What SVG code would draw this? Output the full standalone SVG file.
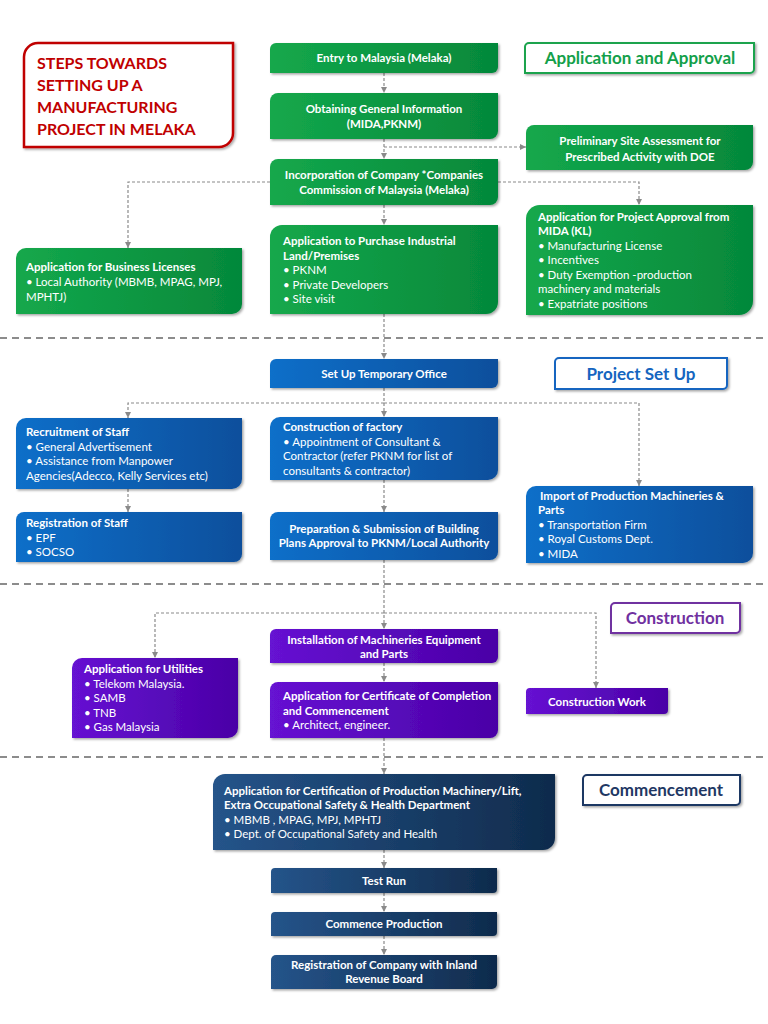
<svg xmlns="http://www.w3.org/2000/svg" width="768" height="1024" viewBox="0 0 768 1024">
<defs>
<linearGradient id="gG" x1="0" y1="0" x2="1" y2="0"><stop offset="0" stop-color="#14a84c"/><stop offset="1" stop-color="#05883a"/></linearGradient>
<linearGradient id="gB" x1="0" y1="0" x2="1" y2="0"><stop offset="0" stop-color="#0e6fc9"/><stop offset="1" stop-color="#0a4f9c"/></linearGradient>
<linearGradient id="gP" x1="0" y1="0" x2="1" y2="0"><stop offset="0" stop-color="#6612d2"/><stop offset="1" stop-color="#4a00a6"/></linearGradient>
<linearGradient id="gN" x1="0" y1="0" x2="1" y2="0"><stop offset="0" stop-color="#25548a"/><stop offset="1" stop-color="#0f2b4c"/></linearGradient>
<filter id="sh" x="-10%" y="-10%" width="120%" height="130%"><feDropShadow dx="1.5" dy="1.5" stdDeviation="1.2" flood-color="#000" flood-opacity="0.35"/></filter>
<marker id="ar" viewBox="0 0 6 6" refX="6" refY="3" markerWidth="6" markerHeight="6" orient="auto" markerUnits="userSpaceOnUse"><path d="M0,0 L6,3 L0,6 Z" fill="#8a8a8a"/></marker>
</defs>
<style>
.g{fill:url(#gG);filter:url(#sh)}
.b{fill:url(#gB);filter:url(#sh)}
.p{fill:url(#gP);filter:url(#sh)}
.n{fill:url(#gN);filter:url(#sh)}
text{font-family:Lato,"Liberation Sans",sans-serif;font-size:11.5px;fill:#fff}
.t{font-weight:bold}
.c{text-anchor:middle;font-weight:bold}
.lbl{fill:#fff;stroke-width:2;filter:url(#sh)}
.lt{font-size:17px;font-weight:bold;text-anchor:middle}
.ttl{font-size:16px;font-weight:bold;fill:#c00000}
.con{fill:none;stroke:#8a8a8a;stroke-width:1.2;stroke-dasharray:3 2}
.sep{fill:none;stroke:#8c8c8c;stroke-width:2;stroke-dasharray:7 5}
</style>
<rect width="768" height="1024" fill="#fff"/>

<g id="separators">
<line class="sep" x1="0" y1="338" x2="768" y2="338"/>
<line class="sep" x1="0" y1="584" x2="768" y2="584"/>
<line class="sep" x1="0" y1="757" x2="768" y2="757"/>
</g>

<g id="connectors">
<path class="con" d="M384,73 V93" marker-end="url(#ar)"/>
<path class="con" d="M384,139 V159" marker-end="url(#ar)"/>
<path class="con" d="M384,147 H526" marker-end="url(#ar)"/>
<path class="con" d="M384,205 V225" marker-end="url(#ar)"/>
<path class="con" d="M270,182 H128 V248" marker-end="url(#ar)"/>
<path class="con" d="M498,182 H639 V205" marker-end="url(#ar)"/>
<path class="con" d="M384,314 V359" marker-end="url(#ar)"/>
<path class="con" d="M384,388 V417" marker-end="url(#ar)"/>
<path class="con" d="M384,403 H128 V418" marker-end="url(#ar)"/>
<path class="con" d="M384,403 H639 V486" marker-end="url(#ar)"/>
<path class="con" d="M128,489 V512" marker-end="url(#ar)"/>
<path class="con" d="M384,480 V512" marker-end="url(#ar)"/>
<path class="con" d="M384,560 V629" marker-end="url(#ar)"/>
<path class="con" d="M384,613 H155 V658" marker-end="url(#ar)"/>
<path class="con" d="M384,613 H596 V688" marker-end="url(#ar)"/>
<path class="con" d="M384,663 V682" marker-end="url(#ar)"/>
<path class="con" d="M384,738 V774" marker-end="url(#ar)"/>
<path class="con" d="M384,850 V868" marker-end="url(#ar)"/>
<path class="con" d="M384,893 V912" marker-end="url(#ar)"/>
<path class="con" d="M384,936 V955" marker-end="url(#ar)"/>
</g>

<g id="title">
<path d="M38,43 H233 V133 A14,14 0 0 1 219,147 H24 V57 A14,14 0 0 1 38,43 Z" fill="#fff" stroke="#c00000" stroke-width="2.5" filter="url(#sh)"/>
<text class="ttl" x="37" y="69">STEPS TOWARDS</text>
<text class="ttl" x="37" y="91">SETTING UP A</text>
<text class="ttl" x="37" y="113">MANUFACTURING</text>
<text class="ttl" x="37" y="135">PROJECT IN MELAKA</text>
</g>

<g id="label-approval">
<path class="lbl" stroke="#1aa34d" d="M529,43 H754 V69 A4,4 0 0 1 750,73 H525 V47 A4,4 0 0 1 529,43 Z"/>
<text class="lt" x="640" y="64" style="fill:#13a04a">Application and Approval</text>
</g>
<g id="label-setup">
<path class="lbl" stroke="#1565c0" d="M559,358 H727 V385 A4,4 0 0 1 723,389 H555 V362 A4,4 0 0 1 559,358 Z"/>
<text class="lt" x="641" y="380" style="fill:#1565c0">Project Set Up</text>
</g>
<g id="label-construction">
<path class="lbl" stroke="#7030a0" d="M615,603 H740 V629 A4,4 0 0 1 736,633 H611 V607 A4,4 0 0 1 615,603 Z"/>
<text class="lt" x="675" y="624" style="fill:#7030a0">Construction</text>
</g>
<g id="label-commencement">
<path class="lbl" stroke="#1f3864" d="M587,775 H740 V801 A4,4 0 0 1 736,805 H583 V779 A4,4 0 0 1 587,775 Z"/>
<text class="lt" x="661" y="796" style="fill:#1f3864">Commencement</text>
</g>

<g id="n-entry">
<path class="g" d="M276,43 H498 V67 A6,6 0 0 1 492,73 H270 V49 A6,6 0 0 1 276,43 Z"/>
<text class="c" x="384" y="62">Entry to Malaysia (Melaka)</text>
</g>
<g id="n-info">
<path class="g" d="M278,93 H498 V131 A8,8 0 0 1 490,139 H270 V101 A8,8 0 0 1 278,93 Z"/>
<text class="c" x="384" y="113">Obtaining General Information</text>
<text class="c" x="384" y="128">(MIDA,PKNM)</text>
</g>
<g id="n-incorp">
<path class="g" d="M278,159 H498 V197 A8,8 0 0 1 490,205 H270 V167 A8,8 0 0 1 278,159 Z"/>
<text class="c" x="384" y="179">Incorporation of Company *Companies</text>
<text class="c" x="384" y="194">Commission of Malaysia (Melaka)</text>
</g>
<g id="n-land">
<path class="g" d="M282,225 H498 V302 A12,12 0 0 1 486,314 H270 V237 A12,12 0 0 1 282,225 Z"/>
<text class="t" x="283" y="245">Application to Purchase Industrial</text>
<text class="t" x="283" y="260">Land/Premises</text>
<text x="283" y="274">• PKNM</text>
<text x="283" y="289">• Private Developers</text>
<text x="283" y="303">• Site visit</text>
</g>
<g id="n-business">
<path class="g" d="M26,248 H242 V304 A10,10 0 0 1 232,314 H16 V258 A10,10 0 0 1 26,248 Z"/>
<text class="t" x="26" y="271">Application for Business Licenses</text>
<text x="26" y="286">• Local Authority (MBMB, MPAG, MPJ,</text>
<text x="26" y="301">MPHTJ)</text>
</g>
<g id="n-site">
<path class="g" d="M534,125 H753 V162 A8,8 0 0 1 745,170 H526 V133 A8,8 0 0 1 534,125 Z"/>
<text class="c" x="640" y="145">Preliminary Site Assessment for</text>
<text class="c" x="640" y="161">Prescribed Activity with DOE</text>
</g>
<g id="n-approval">
<path class="g" d="M540,205 H753 V301 A14,14 0 0 1 739,315 H526 V219 A14,14 0 0 1 540,205 Z"/>
<text class="t" x="538" y="221">Application for Project Approval from</text>
<text class="t" x="538" y="235">MIDA (KL)</text>
<text x="538" y="250">• Manufacturing License</text>
<text x="538" y="264">• Incentives</text>
<text x="538" y="279">• Duty Exemption -production</text>
<text x="538" y="293">machinery and materials</text>
<text x="538" y="308">• Expatriate positions</text>
</g>

<g id="n-office">
<path class="b" d="M276,359 H498 V382 A6,6 0 0 1 492,388 H270 V365 A6,6 0 0 1 276,359 Z"/>
<text class="c" x="384" y="378">Set Up Temporary Office</text>
</g>
<g id="n-recruit">
<path class="b" d="M26,418 H242 V479 A10,10 0 0 1 232,489 H16 V428 A10,10 0 0 1 26,418 Z"/>
<text class="t" x="26" y="436">Recruitment of Staff</text>
<text x="26" y="451">• General Advertisement</text>
<text x="26" y="465">• Assistance from Manpower</text>
<text x="26" y="480">Agencies(Adecco, Kelly Services etc)</text>
</g>
<g id="n-regstaff">
<path class="b" d="M24,512 H242 V554 A8,8 0 0 1 234,562 H16 V520 A8,8 0 0 1 24,512 Z"/>
<text class="t" x="26" y="527">Registration of Staff</text>
<text x="26" y="542">• EPF</text>
<text x="26" y="556">• SOCSO</text>
</g>
<g id="n-factory">
<path class="b" d="M280,417 H498 V470 A10,10 0 0 1 488,480 H270 V427 A10,10 0 0 1 280,417 Z"/>
<text class="t" x="283" y="431">Construction of factory</text>
<text x="283" y="446">• Appointment of Consultant &amp;</text>
<text x="283" y="460">Contractor (refer PKNM for list of</text>
<text x="283" y="475">consultants &amp; contractor)</text>
</g>
<g id="n-plans">
<path class="b" d="M278,512 H498 V552 A8,8 0 0 1 490,560 H270 V520 A8,8 0 0 1 278,512 Z"/>
<text class="c" x="384" y="533">Preparation &amp; Submission of Building</text>
<text class="c" x="384" y="547">Plans Approval to PKNM/Local Authority</text>
</g>
<g id="n-import">
<path class="b" d="M536,486 H753 V553 A10,10 0 0 1 743,563 H526 V496 A10,10 0 0 1 536,486 Z"/>
<text class="t" x="540" y="500">Import of Production Machineries &amp;</text>
<text class="t" x="538" y="514">Parts</text>
<text x="538" y="529">• Transportation Firm</text>
<text x="538" y="543">• Royal Customs Dept.</text>
<text x="538" y="558">• MIDA</text>
</g>

<g id="n-install">
<path class="p" d="M276,629 H498 V657 A6,6 0 0 1 492,663 H270 V635 A6,6 0 0 1 276,629 Z"/>
<text class="c" x="384" y="644">Installation of Machineries Equipment</text>
<text class="c" x="384" y="658">and Parts</text>
</g>
<g id="n-utilities">
<path class="p" d="M82,658 H238 V728 A10,10 0 0 1 228,738 H72 V668 A10,10 0 0 1 82,658 Z"/>
<text class="t" x="84" y="673">Application for Utilities</text>
<text x="84" y="688">• Telekom Malaysia.</text>
<text x="84" y="702">• SAMB</text>
<text x="84" y="717">• TNB</text>
<text x="84" y="731">• Gas Malaysia</text>
</g>
<g id="n-certificate">
<path class="p" d="M278,682 H498 V730 A8,8 0 0 1 490,738 H270 V690 A8,8 0 0 1 278,682 Z"/>
<text class="t" x="283" y="700">Application for Certificate of Completion</text>
<text class="t" x="283" y="715">and Commencement</text>
<text x="283" y="729">• Architect, engineer.</text>
</g>
<g id="n-work">
<path class="p" d="M530,688 H668 V710 A4,4 0 0 1 664,714 H526 V692 A4,4 0 0 1 530,688 Z"/>
<text class="c" x="597" y="706">Construction Work</text>
</g>

<g id="n-certification">
<path class="n" d="M225,774 H555 V838 A12,12 0 0 1 543,850 H213 V786 A12,12 0 0 1 225,774 Z"/>
<text class="t" x="224" y="795">Application for Certification of Production Machinery/Lift,</text>
<text class="t" x="224" y="809">Extra Occupational Safety &amp; Health Department</text>
<text x="224" y="824">• MBMB , MPAG, MPJ, MPHTJ</text>
<text x="224" y="838">• Dept. of Occupational Safety and Health</text>
</g>
<g id="n-test">
<path class="n" d="M275,868 H497 V889 A4,4 0 0 1 493,893 H271 V872 A4,4 0 0 1 275,868 Z"/>
<text class="c" x="384" y="885">Test Run</text>
</g>
<g id="n-commence">
<path class="n" d="M275,912 H497 V932 A4,4 0 0 1 493,936 H271 V916 A4,4 0 0 1 275,912 Z"/>
<text class="c" x="384" y="928">Commence Production</text>
</g>
<g id="n-irb">
<path class="n" d="M276,955 H497 V984 A5,5 0 0 1 492,989 H271 V960 A5,5 0 0 1 276,955 Z"/>
<text class="c" x="384" y="969">Registration of Company with Inland</text>
<text class="c" x="384" y="983">Revenue Board</text>
</g>
</svg>
